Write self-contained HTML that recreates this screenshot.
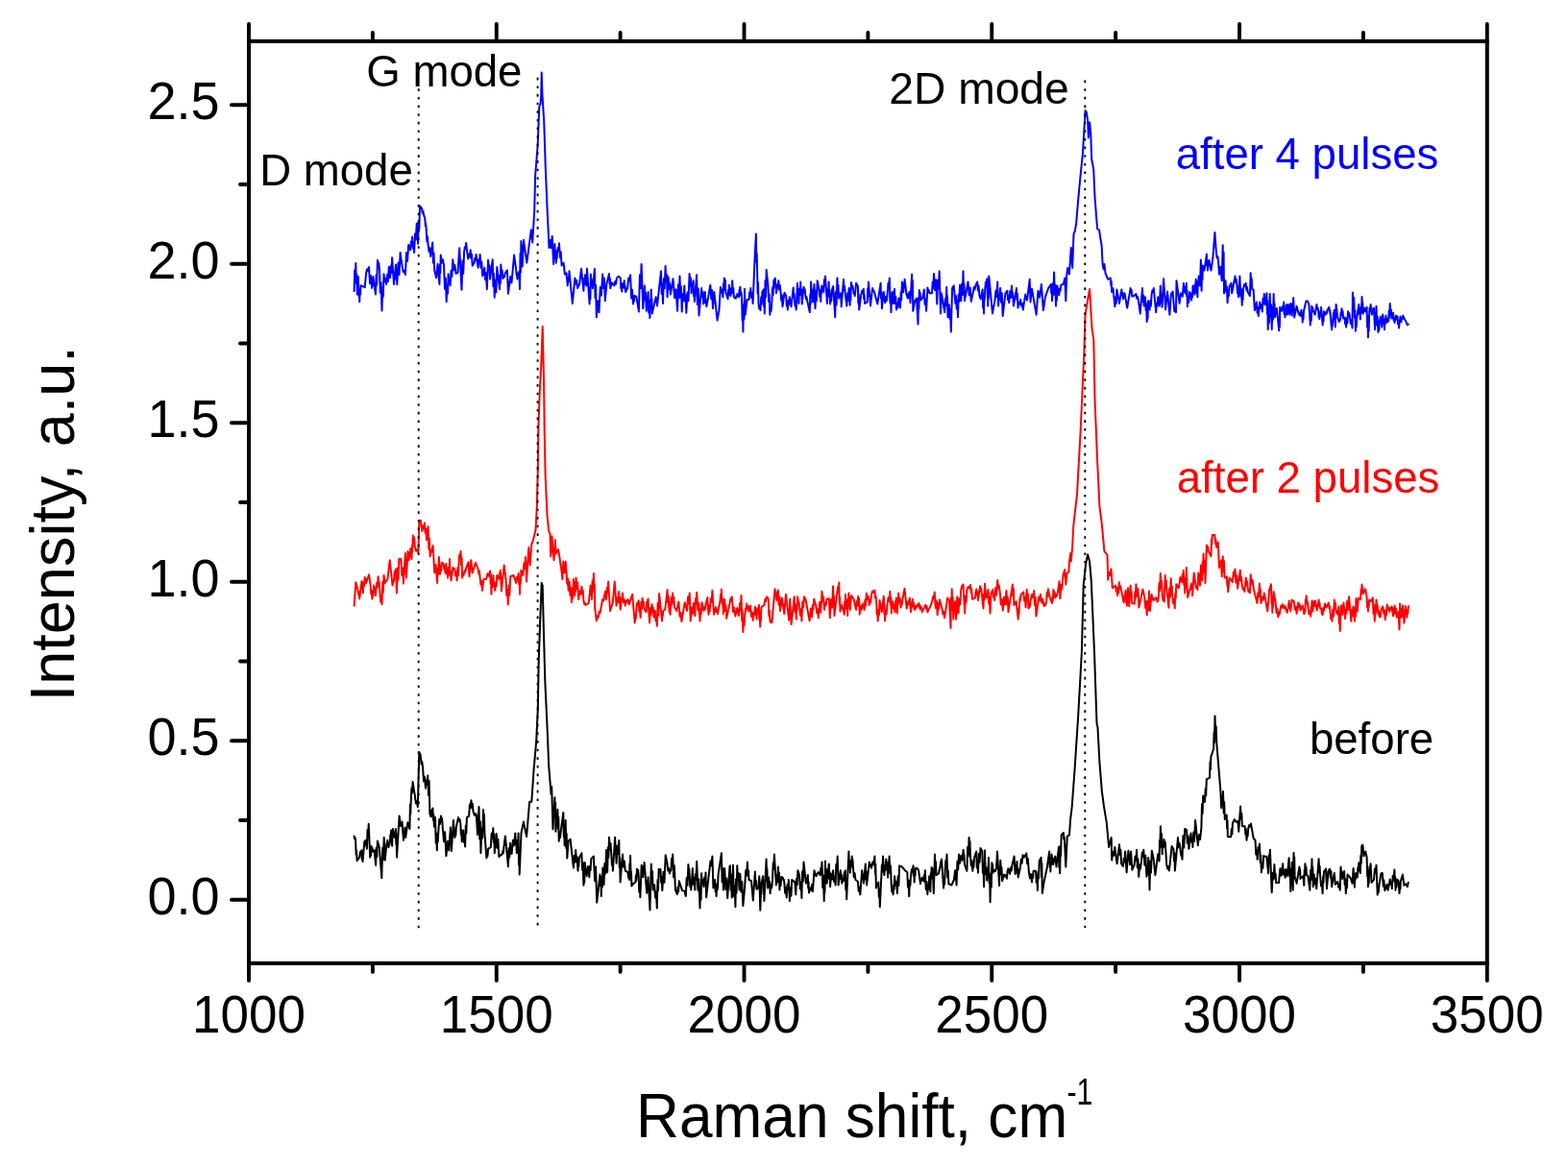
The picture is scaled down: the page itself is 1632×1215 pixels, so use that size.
<!DOCTYPE html>
<html><head><meta charset="utf-8"><style>
html,body{margin:0;padding:0;background:#fff;}
svg{display:block;}
text{font-family:"Liberation Sans",sans-serif;fill:#000;}
</style></head><body>
<svg width="1632" height="1215" viewBox="0 0 1632 1215">
<rect width="1632" height="1215" fill="#fff"/>
<g fill="none" stroke-width="2" stroke-linejoin="round" stroke-linecap="round">
<path d="M368.6 303.1 L369.2 281.3 L369.7 291.5 L370.3 274.1 L370.8 295.1 L371.3 285.7 L371.8 306.4 L372.8 288.0 L373.3 307.4 L373.7 301.6 L374.2 314.3 L374.7 301.4 L375.1 306.4 L375.5 297.2 L379.7 299.2 L381.1 284.0 L382.1 280.3 L382.9 282.3 L384.0 278.1 L385.0 295.1 L385.9 286.9 L387.0 299.8 L387.5 293.8 L387.8 297.5 L388.3 288.0 L390.9 306.4 L391.6 286.3 L392.2 296.4 L392.9 270.8 L393.6 276.1 L394.2 273.4 L394.9 280.1 L395.8 304.8 L396.6 294.1 L397.5 323.5 L398.2 299.2 L398.8 309.0 L399.5 285.3 L400.4 293.2 L401.2 290.0 L402.1 295.9 L403.1 286.0 L403.8 293.1 L404.8 278.1 L406.1 289.3 L406.8 276.6 L407.4 283.9 L408.1 268.2 L410.0 295.9 L412.0 275.5 L412.5 290.7 L412.9 283.9 L413.3 295.9 L414.5 273.6 L415.5 286.0 L416.6 262.9 L418.6 277.4 L419.7 283.2 L420.7 281.5 L421.9 286.0 L423.0 263.1 L424.0 271.9 L425.2 255.0 L425.9 258.5 L426.5 256.8 L427.1 260.3 L427.8 251.8 L428.4 255.8 L429.1 246.5 L429.8 258.6 L430.4 253.6 L431.1 262.9 L432.0 243.4 L432.8 249.6 L433.7 232.7 L434.2 247.6 L434.6 239.3 L435.0 253.7 L435.7 229.5 L436.3 238.7 L437.0 214.5 L439.0 216.9 L439.7 222.1 L440.3 219.8 L441.0 223.4 L442.3 227.4 L442.8 235.4 L443.1 232.8 L443.6 237.9 L444.3 251.4 L444.9 246.0 L445.6 255.0 L446.5 261.9 L447.3 258.3 L448.2 266.9 L450.2 252.4 L450.9 273.7 L451.5 263.2 L452.2 281.4 L454.1 289.3 L455.5 274.8 L457.4 295.9 L457.9 275.6 L458.3 284.3 L458.7 265.6 L459.9 273.6 L460.9 270.3 L462.0 276.1 L463.0 301.0 L463.8 289.6 L464.7 314.3 L465.4 296.8 L466.0 305.7 L466.6 285.3 L467.3 293.4 L467.9 290.0 L468.6 297.2 L469.5 281.8 L470.3 288.2 L471.3 270.2 L472.4 281.2 L473.4 276.0 L474.5 284.7 L476.5 284.0 L478.2 258.3 L480.5 301.8 L481.4 271.6 L482.2 285.0 L483.1 261.6 L483.8 257.3 L484.4 259.0 L485.1 253.1 L487.1 269.5 L488.0 264.6 L488.8 267.6 L489.7 260.3 L490.4 268.9 L491.0 265.1 L491.7 276.8 L493.6 273.5 L494.3 268.8 L494.9 271.0 L495.6 264.9 L497.6 278.7 L498.3 270.5 L498.9 274.6 L499.6 264.9 L500.5 278.7 L501.3 272.4 L502.2 287.3 L502.9 282.7 L503.5 286.0 L504.2 278.7 L505.1 291.3 L505.9 284.2 L506.8 301.1 L508.1 270.8 L508.8 280.8 L509.4 276.3 L510.1 290.6 L512.7 270.2 L513.4 298.3 L514.0 285.0 L514.7 309.7 L515.6 291.8 L516.4 304.3 L517.3 278.1 L520.0 301.1 L520.4 286.6 L520.8 295.0 L521.3 275.5 L522.0 285.2 L522.6 281.4 L523.3 289.9 L524.2 286.9 L525.0 288.4 L525.9 284.0 L527.9 281.4 L528.9 305.7 L531.2 288.0 L531.6 293.0 L532.0 291.2 L532.5 294.5 L535.1 265.6 L537.1 280.1 L537.6 286.1 L537.9 284.0 L538.4 290.6 L540.4 282.7 L541.0 301.1 L541.5 263.8 L541.9 283.5 L542.4 251.1 L542.8 265.6 L543.2 255.8 L543.7 277.4 L545.0 249.8 L547.0 264.3 L548.3 273.5 L550.9 253.7 L552.9 239.2 L554.2 252.4 L556.2 219.5 L557.1 183.0 L559.6 152.0 L561.3 111.0 L562.5 108.0 L563.2 100.0 L563.7 75.6 L564.5 99.5 L566.2 125.8 L567.8 175.0 L569.5 216.0 L571.1 249.0 L571.5 257.9 L572.8 250.0 L573.4 257.9 L574.7 246.1 L576.1 275.0 L577.4 254.0 L577.8 266.1 L578.2 260.8 L578.7 273.7 L579.2 266.3 L579.6 269.4 L580.0 263.2 L580.7 258.0 L581.3 261.2 L582.0 253.3 L582.9 268.3 L583.7 262.2 L584.6 276.4 L586.6 273.7 L587.9 285.6 L589.5 284.3 L590.8 297.4 L591.4 288.9 L591.9 293.0 L592.5 282.3 L595.8 315.9 L598.4 289.5 L599.4 295.5 L600.2 291.9 L601.1 300.1 L603.1 296.1 L605.0 279.7 L607.4 302.7 L608.0 290.1 L608.4 295.7 L609.0 286.2 L609.4 295.1 L609.8 292.4 L610.3 297.4 L611.0 279.7 L613.6 316.5 L614.1 299.5 L614.4 311.3 L614.9 285.6 L615.6 296.1 L616.2 291.5 L616.9 300.1 L618.9 279.7 L619.5 310.2 L620.1 297.1 L620.8 330.3 L622.1 313.2 L622.6 322.5 L623.0 318.1 L623.5 325.1 L624.8 298.8 L625.9 307.5 L627.2 285.6 L628.1 300.0 L628.9 289.7 L629.8 313.2 L631.4 295.5 L634.0 284.9 L634.5 295.3 L634.9 289.9 L635.3 300.1 L635.8 296.1 L636.2 297.5 L636.6 294.1 L639.3 297.4 L640.2 292.9 L641.0 295.8 L641.9 289.5 L643.9 287.6 L645.8 289.5 L646.3 300.3 L646.7 296.3 L647.2 303.4 L648.1 295.1 L648.9 299.2 L649.8 292.2 L650.3 300.5 L650.7 297.9 L651.1 304.0 L653.1 300.1 L654.2 289.5 L655.1 292.4 L656.1 286.2 L657.1 310.4 L658.0 301.8 L659.0 316.5 L659.5 311.8 L659.9 313.9 L660.3 308.0 L662.3 308.6 L664.9 324.4 L665.9 286.2 L666.7 299.9 L667.6 275.0 L669.3 321.1 L670.9 297.4 L671.6 312.6 L672.1 304.8 L672.8 323.8 L673.4 310.0 L674.0 314.1 L674.6 304.0 L675.2 325.5 L675.8 318.5 L676.4 331.0 L676.9 312.2 L677.3 320.0 L677.7 301.4 L678.1 320.7 L678.4 310.9 L678.8 326.4 L682.7 309.3 L683.2 314.5 L683.6 311.5 L684.0 318.5 L688.0 282.3 L688.7 306.0 L689.3 294.9 L690.0 315.9 L690.9 290.1 L691.7 300.3 L692.6 277.0 L693.3 293.9 L693.9 285.7 L694.6 309.3 L695.6 288.2 L696.4 301.0 L697.1 295.0 L697.9 306.6 L700.5 290.2 L702.1 310.1 L703.5 301.2 L705.1 323.8 L705.9 296.5 L706.6 310.2 L707.5 287.6 L708.3 309.7 L708.9 298.3 L709.7 324.4 L710.6 306.1 L711.4 312.8 L712.3 297.4 L713.0 313.7 L713.6 307.6 L714.3 325.7 L715.5 304.5 L716.5 313.2 L717.6 284.9 L718.3 296.9 L718.9 289.6 L719.6 305.3 L720.3 295.3 L720.9 298.4 L721.6 292.2 L722.0 308.2 L722.4 303.5 L722.9 313.9 L725.1 286.2 L725.9 317.1 L726.7 300.4 L727.5 328.4 L730.1 300.1 L730.8 308.8 L731.4 303.8 L732.1 316.5 L733.8 304.0 L734.4 315.6 L734.8 312.2 L735.4 319.2 L739.3 296.8 L740.3 311.3 L741.0 302.0 L742.0 321.1 L743.3 304.0 L746.6 333.6 L748.5 322.4 L749.9 298.7 L750.8 304.6 L751.6 301.6 L752.5 309.3 L753.0 295.2 L753.4 301.8 L753.8 289.5 L754.3 297.1 L754.8 291.4 L755.3 304.0 L757.6 311.3 L758.1 301.7 L758.5 307.0 L759.0 296.8 L759.5 303.7 L760.0 300.7 L760.5 308.0 L761.1 300.0 L761.6 305.2 L762.2 292.2 L762.8 303.7 L763.3 300.0 L763.8 309.3 L765.8 310.6 L766.4 308.1 L766.8 309.1 L767.4 306.0 L769.1 309.3 L769.6 301.4 L769.9 304.3 L770.4 298.7 L771.0 307.3 L771.5 304.2 L772.1 311.3 L772.6 333.8 L773.0 323.5 L773.4 345.5 L774.0 317.2 L774.5 332.3 L775.0 300.7 L775.7 327.7 L777.6 311.9 L779.6 311.9 L780.2 304.2 L780.7 307.7 L781.3 300.1 L782.1 309.9 L782.8 305.0 L783.6 315.9 L785.3 275.0 L786.9 243.4 L787.3 272.7 L787.7 263.9 L788.2 285.6 L788.6 305.4 L789.0 294.0 L789.5 315.9 L790.2 321.2 L790.8 318.4 L791.5 323.1 L792.2 309.6 L792.8 316.7 L793.4 304.0 L794.8 301.4 L795.1 319.2 L795.5 310.5 L795.8 326.4 L796.5 292.0 L797.0 309.2 L797.7 281.0 L799.4 297.4 L800.1 314.2 L800.7 306.6 L801.3 327.7 L802.0 319.8 L802.6 323.9 L803.3 315.9 L804.0 299.2 L804.6 307.3 L805.3 292.2 L806.9 289.5 L807.2 299.9 L807.6 296.2 L807.9 305.3 L810.3 292.2 L811.1 301.6 L811.8 297.3 L812.5 304.0 L813.2 312.8 L813.8 307.0 L814.5 319.2 L816.5 304.7 L818.2 308.0 L818.8 318.6 L819.2 313.2 L819.8 322.4 L820.5 313.1 L821.1 316.9 L821.8 309.3 L823.5 319.2 L825.7 299.4 L826.2 309.6 L826.6 305.7 L827.0 313.2 L827.6 318.7 L828.1 316.7 L828.7 322.4 L829.9 294.8 L831.4 315.9 L832.0 300.6 L832.6 306.9 L833.2 293.5 L833.7 307.0 L834.2 301.3 L834.7 316.5 L836.5 298.7 L837.1 303.1 L837.6 300.9 L838.2 306.6 L838.9 311.2 L839.5 309.1 L840.2 313.2 L842.8 325.1 L843.3 306.6 L843.7 316.3 L844.1 293.5 L844.8 307.7 L845.4 302.4 L846.1 314.5 L846.6 301.0 L847.0 307.6 L847.4 296.1 L848.5 321.1 L849.3 302.4 L849.9 313.1 L850.7 292.2 L852.4 300.1 L853.1 308.6 L853.6 305.0 L854.3 313.9 L854.6 301.7 L855.0 305.4 L855.3 297.4 L857.3 304.0 L857.9 291.0 L858.4 296.8 L859.0 287.6 L860.9 315.9 L861.5 301.3 L862.0 308.4 L862.6 293.5 L863.1 308.5 L863.5 302.2 L864.0 316.5 L864.7 309.6 L865.2 313.6 L865.9 302.7 L866.3 300.0 L866.7 301.3 L867.2 298.1 L869.2 330.3 L869.9 303.9 L870.6 317.4 L871.4 289.5 L872.0 301.4 L872.5 297.1 L873.1 310.6 L873.8 307.0 L874.4 309.0 L875.1 305.3 L875.7 319.2 L878.0 290.8 L878.6 302.4 L879.1 298.1 L879.7 305.3 L881.4 318.5 L882.2 305.2 L882.9 312.5 L883.6 300.1 L884.6 317.8 L885.0 304.8 L885.4 312.5 L885.9 294.1 L886.7 299.3 L887.4 297.6 L888.2 302.7 L888.8 306.0 L889.3 304.5 L889.8 308.0 L891.1 294.8 L892.9 298.1 L893.3 315.6 L893.7 306.4 L894.2 322.4 L896.1 308.0 L897.1 302.7 L897.9 305.1 L898.8 300.7 L899.2 311.2 L899.6 306.9 L900.1 315.9 L902.7 314.5 L903.2 300.0 L903.6 308.2 L904.0 293.5 L906.0 318.5 L908.0 300.1 L910.0 304.0 L913.3 316.5 L916.6 294.8 L917.0 310.7 L917.4 304.1 L917.9 321.1 L919.8 304.0 L921.2 315.2 L922.1 309.1 L922.9 313.2 L923.8 304.0 L924.5 294.7 L925.1 297.8 L925.8 289.5 L926.4 315.3 L926.9 305.1 L927.5 325.1 L927.9 310.4 L928.3 314.7 L928.8 304.0 L929.7 315.9 L930.2 304.0 L930.6 309.1 L931.0 300.7 L931.7 316.1 L932.3 309.1 L933.0 322.4 L933.8 315.8 L934.6 320.3 L935.4 310.6 L935.9 315.8 L936.4 312.1 L937.0 320.5 L937.7 304.0 L938.2 312.2 L938.9 293.5 L940.3 304.0 L940.7 294.9 L941.1 299.4 L941.6 290.8 L943.5 306.6 L944.9 310.6 L945.4 306.1 L945.9 307.7 L946.4 304.0 L946.8 310.2 L947.1 306.2 L947.5 315.2 L949.1 285.6 L949.5 307.2 L949.9 292.2 L950.3 323.8 L952.2 313.2 L954.0 310.6 L955.5 337.6 L956.0 310.2 L956.4 321.8 L956.8 302.0 L957.3 308.7 L957.7 305.0 L958.2 312.6 L960.1 310.6 L961.9 301.4 L962.6 316.8 L963.3 311.6 L964.1 323.8 L965.4 299.4 L966.1 304.0 L966.7 301.9 L967.4 305.3 L970.0 305.3 L970.7 293.5 L971.3 299.8 L972.0 284.9 L973.1 302.0 L974.1 291.2 L975.3 316.5 L976.1 291.7 L976.8 300.2 L977.7 282.3 L979.0 326.4 L979.9 305.3 L983.2 325.1 L983.9 311.1 L984.5 318.4 L985.2 298.7 L985.6 315.5 L986.0 308.0 L986.5 330.3 L986.9 321.4 L987.3 326.4 L987.8 317.2 L988.5 331.6 L989.1 322.0 L989.8 345.5 L991.1 300.1 L992.7 297.4 L994.4 315.9 L995.0 308.0 L995.7 321.5 L996.3 313.2 L997.0 330.3 L997.7 306.6 L998.3 313.9 L999.0 296.8 L999.4 307.4 L999.8 302.9 L1000.3 313.2 L1001.1 295.6 L1001.8 306.9 L1002.5 282.3 L1003.0 303.1 L1003.5 295.6 L1004.0 313.2 L1007.5 293.5 L1008.7 307.3 L1009.7 299.5 L1010.8 313.9 L1012.8 304.0 L1013.7 299.1 L1014.5 301.6 L1015.4 297.4 L1017.2 293.5 L1017.9 302.4 L1018.6 297.8 L1019.4 308.0 L1020.7 311.3 L1022.7 301.4 L1023.1 320.5 L1023.5 311.7 L1024.0 326.4 L1024.5 306.5 L1024.9 311.7 L1025.3 300.7 L1026.0 293.4 L1026.6 295.6 L1027.3 290.2 L1028.2 318.5 L1028.6 301.8 L1028.9 310.9 L1029.3 287.6 L1033.0 326.4 L1035.6 311.9 L1036.5 302.4 L1037.3 309.1 L1038.2 293.5 L1039.1 318.5 L1039.8 307.8 L1040.4 311.9 L1041.1 300.1 L1042.0 314.8 L1042.8 305.3 L1043.7 329.0 L1046.4 305.3 L1048.4 302.7 L1049.0 312.1 L1049.6 308.0 L1050.3 315.2 L1051.3 303.0 L1052.0 310.0 L1053.0 297.4 L1053.7 309.5 L1054.2 305.0 L1054.9 318.5 L1058.0 300.1 L1058.5 312.4 L1059.0 305.9 L1059.5 320.5 L1060.5 314.9 L1061.3 316.7 L1062.2 311.9 L1063.1 318.5 L1063.9 316.0 L1064.8 322.4 L1067.2 306.6 L1067.8 310.8 L1068.4 308.8 L1069.0 312.6 L1071.7 290.8 L1072.5 314.5 L1074.0 300.7 L1078.6 327.7 L1080.5 302.7 L1082.1 309.9 L1083.9 296.1 L1085.9 323.1 L1087.9 309.3 L1091.1 300.1 L1093.8 296.1 L1094.2 305.1 L1094.6 298.9 L1095.1 313.2 L1095.8 295.1 L1096.4 306.9 L1097.1 283.6 L1097.8 306.6 L1098.4 296.5 L1099.0 318.5 L1099.5 305.5 L1099.9 312.7 L1100.4 297.4 L1102.3 307.3 L1103.0 300.4 L1103.6 302.7 L1104.3 296.8 L1106.9 295.5 L1108.3 289.5 L1109.3 313.2 L1110.2 286.9 L1111.2 279.0 L1112.9 285.6 L1114.8 257.9 L1116.2 279.0 L1117.5 243.4 L1118.8 240.8 L1120.1 232.9 L1122.1 209.2 L1124.3 185.5 L1127.0 159.2 L1128.3 136.8 L1129.6 115.1 L1130.9 117.1 L1132.2 126.3 L1132.9 143.4 L1134.2 127.6 L1135.3 139.5 L1136.2 165.8 L1138.2 176.3 L1139.5 205.3 L1142.1 238.2 L1144.1 239.5 L1145.4 248.7 L1146.6 255.3 L1147.6 275.0 L1148.6 280.3 L1149.5 275.0 L1150.5 284.3 L1153.2 290.8 L1155.8 289.5 L1156.3 296.9 L1156.7 292.9 L1157.1 304.0 L1158.4 300.1 L1160.4 319.2 L1161.1 309.6 L1161.7 316.0 L1162.4 301.4 L1165.0 315.9 L1167.4 301.4 L1167.9 307.6 L1168.4 305.1 L1169.0 311.3 L1169.5 307.7 L1170.0 309.3 L1170.5 305.3 L1173.2 320.5 L1176.6 300.1 L1177.2 304.6 L1177.6 301.8 L1178.2 308.6 L1180.2 308.0 L1182.4 306.0 L1183.2 310.7 L1183.9 308.7 L1184.8 311.9 L1186.7 326.4 L1189.0 300.1 L1189.6 314.2 L1190.1 307.5 L1190.7 318.5 L1191.2 313.5 L1191.5 316.0 L1192.0 309.3 L1192.6 322.9 L1193.1 316.0 L1193.7 335.0 L1194.2 323.8 L1194.6 331.7 L1195.0 313.2 L1195.6 318.7 L1196.1 316.3 L1196.6 322.4 L1197.3 313.0 L1197.9 318.5 L1198.6 306.6 L1199.4 302.3 L1200.0 303.8 L1200.8 300.1 L1203.2 325.1 L1203.9 315.6 L1204.5 319.0 L1205.2 309.3 L1206.9 318.5 L1207.8 297.4 L1208.4 314.8 L1208.9 306.1 L1209.5 319.8 L1211.1 290.2 L1213.1 322.4 L1215.0 303.4 L1217.4 327.7 L1218.7 308.0 L1219.4 304.9 L1219.9 306.4 L1220.6 303.4 L1222.3 323.8 L1224.0 325.1 L1224.5 292.2 L1227.6 315.9 L1228.9 305.3 L1230.8 308.6 L1231.9 294.8 L1232.5 303.0 L1232.9 299.6 L1233.5 305.3 L1233.9 298.6 L1234.3 302.8 L1234.8 294.8 L1235.2 308.2 L1235.5 302.6 L1235.9 319.2 L1236.6 309.0 L1237.3 314.8 L1238.1 304.0 L1238.8 309.4 L1239.4 306.4 L1240.1 312.6 L1240.6 304.6 L1241.1 309.2 L1241.6 297.4 L1242.2 302.3 L1242.8 300.0 L1243.4 306.6 L1243.8 296.3 L1244.2 299.7 L1244.7 290.8 L1245.3 304.8 L1245.8 298.7 L1246.4 309.3 L1246.8 292.8 L1247.2 297.2 L1247.7 287.6 L1248.2 295.0 L1248.6 291.6 L1249.0 297.4 L1249.9 270.4 L1250.6 302.7 L1251.1 282.5 L1251.5 290.9 L1251.9 276.4 L1253.5 281.6 L1255.9 264.5 L1256.2 276.5 L1256.6 271.3 L1256.9 281.6 L1258.5 271.1 L1260.5 281.6 L1262.4 268.5 L1264.4 242.1 L1266.1 265.8 L1266.8 268.8 L1267.3 266.9 L1268.0 271.1 L1269.0 285.6 L1269.5 280.5 L1269.9 282.7 L1270.3 277.7 L1271.7 292.2 L1272.7 255.3 L1273.2 280.9 L1273.6 262.4 L1274.0 305.3 L1274.6 298.0 L1275.1 301.4 L1275.6 292.2 L1276.3 303.7 L1276.9 298.6 L1277.6 315.2 L1278.3 302.1 L1278.9 308.1 L1279.6 298.1 L1281.5 294.8 L1282.2 305.3 L1285.5 287.6 L1286.2 294.2 L1286.8 291.1 L1287.5 297.4 L1288.0 305.3 L1288.5 301.0 L1289.0 309.3 L1290.4 287.6 L1291.2 308.4 L1291.9 300.5 L1292.7 317.8 L1293.2 307.1 L1293.6 312.3 L1294.0 301.4 L1295.0 296.2 L1295.8 297.7 L1296.7 294.8 L1297.4 302.2 L1298.0 299.0 L1298.7 304.0 L1300.9 308.0 L1301.7 284.3 L1302.2 294.7 L1302.7 289.9 L1303.3 301.4 L1304.6 301.4 L1305.9 323.1 L1307.9 314.5 L1308.6 325.7 L1309.2 320.1 L1309.8 329.0 L1311.2 314.5 L1312.1 320.9 L1312.9 317.3 L1313.8 324.4 L1314.5 311.1 L1315.1 316.5 L1315.8 306.0 L1316.2 313.1 L1316.6 310.6 L1317.1 317.2 L1317.6 309.8 L1317.9 312.2 L1318.4 305.3 L1318.9 327.0 L1319.3 313.1 L1319.7 342.9 L1320.4 321.2 L1321.0 336.0 L1321.7 306.0 L1322.4 330.1 L1323.0 317.3 L1323.7 342.9 L1324.4 319.6 L1325.0 332.7 L1325.6 306.0 L1326.1 323.4 L1326.5 316.1 L1327.0 330.3 L1328.9 321.1 L1331.2 344.2 L1331.5 331.0 L1331.9 340.6 L1332.2 319.8 L1334.2 323.8 L1334.9 319.1 L1335.5 321.4 L1336.2 314.5 L1336.6 327.0 L1337.0 322.5 L1337.5 330.3 L1338.8 317.2 L1339.8 327.6 L1340.8 316.9 L1342.3 327.6 L1343.2 315.9 L1343.8 324.6 L1344.2 319.5 L1344.7 328.6 L1345.2 316.3 L1345.7 321.3 L1346.2 310.0 L1347.2 330.6 L1349.6 318.8 L1351.6 326.7 L1353.0 328.6 L1353.6 324.7 L1354.0 326.4 L1354.5 322.7 L1354.9 329.6 L1355.3 326.3 L1355.7 335.5 L1356.1 327.9 L1356.5 332.1 L1357.0 323.7 L1359.4 313.4 L1360.9 313.4 L1362.4 316.9 L1363.8 338.4 L1364.3 328.1 L1364.8 333.6 L1365.3 318.8 L1365.8 321.7 L1366.2 320.2 L1366.8 323.7 L1368.7 327.6 L1370.4 316.9 L1371.0 322.1 L1371.5 320.5 L1372.2 323.7 L1372.6 330.2 L1372.9 328.2 L1373.3 332.1 L1374.0 324.4 L1374.5 329.0 L1375.1 319.8 L1376.6 338.4 L1377.1 329.2 L1377.5 334.6 L1378.0 324.2 L1379.5 327.6 L1380.2 324.9 L1380.8 326.6 L1381.5 322.7 L1383.4 319.8 L1383.9 324.9 L1384.3 323.3 L1384.7 327.6 L1386.1 343.3 L1386.5 334.6 L1386.9 339.0 L1387.4 332.1 L1387.9 325.9 L1388.3 328.6 L1388.8 322.7 L1389.8 340.4 L1390.6 316.9 L1392.3 330.6 L1393.7 335.0 L1394.2 332.4 L1394.7 333.9 L1395.2 330.6 L1395.6 325.6 L1396.0 327.8 L1396.5 321.3 L1397.1 328.3 L1397.6 324.2 L1398.1 331.6 L1399.6 330.6 L1400.1 337.3 L1400.6 335.0 L1401.1 340.4 L1401.8 330.9 L1402.4 336.4 L1403.0 324.2 L1403.7 327.8 L1404.3 326.1 L1405.0 330.6 L1405.9 337.1 L1406.6 333.6 L1407.5 341.4 L1407.9 304.6 L1408.5 313.2 L1408.9 309.4 L1409.4 315.9 L1409.9 330.8 L1410.4 323.2 L1410.9 344.8 L1411.3 335.6 L1411.7 340.4 L1412.2 331.6 L1414.3 316.9 L1414.8 327.0 L1415.3 322.9 L1415.8 332.5 L1416.4 319.8 L1416.9 325.7 L1417.5 309.0 L1417.9 320.7 L1418.3 314.7 L1418.7 326.7 L1419.2 322.5 L1419.7 324.0 L1420.2 320.8 L1421.7 324.7 L1422.6 319.8 L1423.1 340.8 L1423.5 329.0 L1423.9 351.2 L1424.3 339.9 L1424.7 344.5 L1425.1 328.6 L1425.6 320.6 L1426.1 323.1 L1426.6 316.9 L1427.1 324.5 L1427.5 320.2 L1428.0 327.6 L1428.7 323.0 L1429.3 325.1 L1430.0 320.8 L1431.0 343.3 L1431.5 328.7 L1431.9 334.2 L1432.5 318.8 L1433.1 338.5 L1433.7 329.5 L1434.4 345.8 L1434.9 339.9 L1435.4 343.8 L1435.9 334.5 L1436.9 329.6 L1437.4 336.0 L1437.8 333.3 L1438.3 340.4 L1439.3 327.6 L1439.9 335.6 L1440.4 332.1 L1441.0 343.3 L1441.5 331.9 L1442.0 336.7 L1442.5 328.6 L1443.0 333.5 L1443.3 331.7 L1443.7 335.5 L1445.2 334.5 L1445.7 323.4 L1446.2 330.7 L1446.7 315.9 L1447.4 327.5 L1447.9 322.4 L1448.6 331.6 L1450.1 325.7 L1450.6 333.5 L1451.1 330.6 L1451.6 336.0 L1452.1 330.9 L1452.5 333.2 L1453.0 328.6 L1454.5 329.6 L1455.0 337.4 L1455.5 334.1 L1456.0 341.4 L1457.5 329.6 L1458.4 335.0 L1459.0 330.8 L1459.6 332.1 L1460.2 328.6 L1461.9 332.5 L1463.3 334.5 L1464.8 338.4 L1465.8 337.5" stroke="#0000ff"/>
<path d="M368.6 630.6 L370.3 606.2 L372.5 614.8 L373.1 619.3 L373.6 616.2 L374.2 623.4 L376.5 604.9 L376.9 612.3 L377.3 608.3 L377.8 617.4 L378.5 606.3 L379.1 610.1 L379.7 601.0 L380.2 604.6 L380.6 602.6 L381.1 606.9 L384.0 598.3 L385.7 609.5 L386.2 618.3 L386.7 614.8 L387.3 623.4 L387.9 616.3 L388.4 620.4 L389.0 609.5 L389.7 616.0 L390.3 612.0 L390.9 620.1 L391.9 606.9 L392.7 611.8 L393.6 600.3 L394.2 609.0 L394.7 605.7 L395.3 614.8 L396.1 626.4 L396.7 621.5 L397.5 629.3 L398.2 606.0 L398.8 616.9 L399.5 599.0 L400.8 606.9 L403.4 602.9 L405.7 583.2 L408.5 609.5 L410.0 604.3 L410.7 594.9 L411.3 599.5 L412.0 592.4 L412.9 617.4 L413.8 591.6 L414.5 603.8 L415.3 581.9 L417.3 581.9 L418.2 598.8 L419.0 591.2 L419.9 607.6 L421.9 576.0 L422.3 595.2 L422.6 588.2 L422.9 601.6 L424.5 574.0 L425.6 583.2 L426.1 575.3 L426.6 579.8 L427.1 571.3 L428.5 581.9 L428.9 568.1 L429.3 574.5 L429.8 557.5 L430.5 563.7 L431.1 559.4 L431.8 568.7 L433.0 573.8 L434.1 572.1 L435.3 575.3 L436.4 542.4 L437.7 541.7 L439.3 552.9 L440.2 547.3 L441.0 550.1 L441.9 544.4 L442.6 554.9 L443.3 550.6 L444.0 562.1 L444.6 551.3 L445.0 555.8 L445.6 548.3 L446.3 571.4 L446.9 560.7 L447.6 579.2 L450.6 568.1 L452.2 596.2 L453.5 587.9 L455.1 606.9 L455.7 591.2 L456.2 597.8 L456.8 579.9 L458.1 597.7 L458.7 589.9 L459.2 594.3 L459.8 585.8 L461.6 587.1 L462.2 592.3 L462.8 588.9 L463.4 596.4 L464.3 587.1 L464.9 597.5 L465.4 594.5 L466.0 601.6 L466.7 590.7 L467.3 597.3 L468.0 581.9 L468.5 599.5 L469.0 594.9 L469.5 604.3 L471.3 591.1 L473.2 592.4 L474.1 599.2 L474.8 595.0 L475.6 604.3 L476.4 591.1 L477.1 599.1 L477.8 580.6 L478.4 577.2 L479.0 579.8 L479.6 574.0 L480.1 588.1 L480.6 580.7 L481.1 601.6 L481.8 597.8 L482.4 599.0 L483.1 596.4 L483.8 594.0 L484.4 595.4 L485.1 591.8 L487.5 585.2 L488.5 600.3 L490.3 583.2 L491.7 596.4 L495.0 585.8 L497.6 592.4 L498.3 597.6 L498.9 594.6 L499.6 601.6 L500.4 608.6 L501.1 604.8 L501.9 614.8 L503.5 602.9 L506.1 602.9 L507.5 597.2 L508.7 599.6 L510.1 594.4 L510.6 607.6 L511.0 598.1 L511.4 618.7 L512.1 605.3 L512.7 610.9 L513.4 599.0 L514.0 609.5 L514.5 605.9 L515.1 614.8 L515.9 606.7 L516.6 610.4 L517.3 599.0 L519.3 602.9 L519.9 596.6 L520.3 599.4 L520.9 593.7 L521.9 615.5 L524.6 588.5 L526.6 604.3 L527.3 620.1 L528.0 613.9 L528.8 629.3 L529.6 609.4 L530.3 619.8 L531.2 600.3 L534.5 599.0 L537.1 606.9 L538.0 600.7 L538.8 603.7 L539.7 597.0 L540.2 608.1 L540.6 602.0 L541.0 618.7 L541.5 600.8 L541.9 607.0 L542.4 593.7 L543.0 596.7 L543.6 595.4 L544.3 599.0 L545.3 586.5 L546.0 592.1 L547.0 579.9 L548.0 605.6 L550.3 570.0 L551.6 588.5 L553.3 566.7 L554.9 562.1 L557.5 551.6 L558.8 527.5 L559.8 488.0 L560.3 448.5 L561.7 409.0 L563.3 379.4 L564.7 339.9 L565.3 365.6 L566.1 399.1 L566.7 448.5 L567.7 497.9 L569.6 537.4 L571.2 553.2 L572.5 555.5 L573.2 579.2 L574.5 558.2 L575.5 575.3 L576.5 583.2 L577.8 562.1 L578.7 576.6 L579.5 573.4 L580.2 574.5 L581.1 572.0 L584.4 593.7 L585.3 602.9 L586.3 584.5 L587.6 596.4 L588.0 588.6 L588.3 592.4 L588.7 584.5 L589.6 596.4 L590.3 607.9 L590.9 602.3 L591.6 614.8 L592.0 609.9 L592.3 613.3 L592.7 605.6 L593.4 619.8 L594.1 611.5 L594.9 627.3 L595.6 613.0 L596.2 622.7 L596.9 602.9 L597.3 611.6 L597.7 605.8 L598.2 620.1 L598.6 609.2 L599.0 615.9 L599.5 601.6 L600.4 612.9 L601.2 606.4 L602.1 624.0 L603.3 615.5 L604.3 618.7 L605.4 610.8 L606.1 618.4 L606.7 614.7 L607.4 625.3 L608.1 628.9 L608.7 627.9 L609.4 629.9 L612.7 628.0 L614.6 609.5 L615.1 619.3 L615.5 615.2 L616.0 624.0 L616.6 604.4 L617.2 611.9 L617.9 597.0 L618.4 616.5 L618.8 608.6 L619.2 633.2 L620.8 646.4 L621.7 641.2 L622.4 643.4 L623.2 639.8 L623.9 636.6 L624.5 638.2 L625.2 635.2 L627.1 624.0 L628.5 625.3 L628.9 619.7 L629.3 622.4 L629.8 616.1 L631.1 624.0 L631.8 611.9 L632.4 617.3 L633.1 605.6 L635.0 635.9 L637.7 628.0 L639.7 605.6 L641.6 630.6 L642.5 622.4 L643.2 626.7 L644.0 616.1 L644.6 627.7 L645.0 621.5 L645.6 634.5 L648.0 617.4 L649.0 627.2 L649.8 624.4 L650.8 630.6 L651.8 625.3 L652.6 626.8 L653.5 624.0 L653.9 626.8 L654.3 625.6 L654.8 629.3 L658.1 618.7 L660.7 648.4 L661.3 640.2 L661.8 644.1 L662.4 633.2 L663.2 627.7 L663.9 630.3 L664.7 625.3 L665.4 637.0 L666.0 633.1 L666.6 643.1 L667.3 627.1 L667.9 634.3 L668.6 622.7 L669.3 630.5 L669.9 626.4 L670.6 634.5 L672.6 637.2 L673.3 626.6 L673.9 630.6 L674.5 623.4 L676.1 648.4 L677.0 633.1 L677.7 639.9 L678.5 629.3 L679.2 636.4 L679.8 632.6 L680.5 642.4 L680.9 638.0 L681.3 640.5 L681.8 635.9 L682.5 646.2 L683.1 641.5 L683.8 651.7 L684.6 627.7 L685.3 640.7 L686.1 618.1 L689.0 646.4 L689.5 638.1 L689.9 640.9 L690.3 635.9 L692.3 634.5 L694.6 614.1 L695.2 627.1 L695.7 620.5 L696.3 631.9 L696.7 637.3 L697.1 635.1 L697.6 639.8 L698.5 622.1 L699.3 629.4 L700.2 617.4 L700.8 626.7 L701.3 621.7 L701.9 631.9 L704.2 635.9 L706.4 626.6 L707.5 641.8 L708.4 637.7 L709.4 647.1 L712.7 627.3 L715.1 635.9 L716.0 621.6 L716.8 628.6 L717.7 617.4 L718.7 646.4 L719.8 632.7 L720.8 639.2 L721.9 628.0 L722.4 637.5 L722.8 633.3 L723.3 641.1 L724.0 623.1 L724.5 628.6 L725.2 616.8 L726.4 635.4 L727.4 628.0 L728.5 646.4 L729.2 634.2 L729.8 638.8 L730.5 627.3 L732.5 635.9 L733.2 632.6 L733.8 634.5 L734.5 629.3 L736.4 622.0 L736.8 635.0 L737.1 629.7 L737.5 639.8 L738.0 635.1 L738.5 637.1 L739.1 631.9 L739.9 623.2 L740.6 626.9 L741.4 614.8 L743.0 639.8 L743.7 634.1 L744.3 636.9 L745.0 631.9 L745.7 637.0 L746.3 634.4 L747.0 639.2 L749.6 624.7 L750.1 618.5 L750.5 621.6 L750.9 613.5 L751.6 628.6 L752.2 623.4 L752.9 639.2 L753.4 627.2 L753.7 631.3 L754.2 624.0 L754.9 636.2 L755.5 630.5 L756.2 643.8 L759.5 628.0 L760.3 623.3 L760.9 625.3 L761.7 621.3 L763.0 636.9 L764.1 632.6 L765.4 641.5 L767.3 632.9 L767.9 638.4 L768.4 635.6 L769.1 640.9 L770.0 628.0 L770.7 635.7 L771.5 620.0 L772.2 646.3 L772.7 635.7 L773.4 658.0 L774.0 645.1 L774.6 651.3 L775.2 640.9 L775.9 633.6 L776.4 636.6 L777.1 628.6 L777.9 633.2 L778.7 631.1 L779.5 636.6 L781.0 630.5 L782.0 641.9 L782.8 637.7 L783.8 645.8 L784.5 637.4 L785.2 640.4 L785.9 631.7 L786.4 638.8 L786.9 635.1 L787.5 644.6 L788.3 633.3 L789.1 638.9 L789.9 629.9 L790.4 645.5 L790.7 636.8 L791.2 652.5 L791.6 641.8 L791.9 646.8 L792.4 632.3 L795.4 629.9 L796.3 623.8 L797.0 626.2 L797.9 621.3 L799.7 623.7 L800.4 641.4 L800.9 635.5 L801.6 647.6 L803.4 648.2 L806.5 613.3 L807.1 620.5 L807.7 616.3 L808.3 625.0 L808.9 617.0 L809.3 621.0 L809.9 614.5 L810.6 629.7 L811.3 621.3 L812.0 636.0 L813.8 622.5 L816.3 639.0 L817.9 618.8 L821.2 645.8 L822.2 623.7 L823.6 650.1 L826.7 621.3 L827.4 637.3 L828.0 629.5 L828.8 644.6 L829.2 630.2 L829.6 635.6 L830.0 621.3 L832.0 629.9 L832.8 640.5 L833.6 634.2 L834.4 646.4 L835.3 626.6 L836.0 632.3 L836.9 621.3 L837.6 624.2 L838.2 622.9 L838.9 626.2 L842.6 646.4 L843.8 633.5 L845.1 642.1 L845.8 629.9 L846.4 634.5 L847.2 623.7 L849.4 631.1 L850.2 638.3 L851.0 634.2 L851.8 643.3 L853.1 626.9 L854.2 637.6 L855.5 615.8 L856.3 626.1 L857.1 621.5 L857.9 634.8 L858.8 627.8 L859.5 630.6 L860.4 623.7 L862.8 623.1 L863.8 643.3 L865.0 624.3 L866.0 632.5 L867.1 610.2 L867.6 628.7 L867.9 620.2 L868.4 640.9 L871.4 616.4 L872.1 611.0 L872.6 614.7 L873.3 606.6 L873.7 628.6 L874.1 621.8 L874.5 636.6 L875.1 631.5 L875.7 633.3 L876.3 629.9 L878.8 639.7 L879.2 626.8 L879.6 635.1 L880.0 618.8 L880.8 633.0 L881.4 625.8 L882.2 640.9 L882.6 623.4 L883.0 630.8 L883.4 617.6 L883.9 628.9 L884.2 622.1 L884.7 634.8 L886.1 620.0 L888.6 623.7 L891.0 634.8 L891.8 626.0 L892.5 630.3 L893.2 620.7 L893.8 630.8 L894.2 623.2 L894.7 639.7 L895.8 631.0 L896.7 634.7 L897.8 628.6 L899.6 634.8 L900.4 624.6 L901.0 630.8 L901.8 617.6 L902.8 624.1 L903.7 620.8 L904.8 629.9 L905.5 623.9 L906.2 627.5 L907.0 618.8 L908.2 615.4 L909.2 616.8 L910.4 614.5 L911.0 622.6 L911.5 620.0 L912.1 625.0 L912.7 639.3 L913.1 634.4 L913.7 646.4 L914.3 635.3 L914.9 640.4 L915.5 625.0 L917.7 637.2 L919.8 620.7 L920.3 638.8 L920.6 629.1 L921.1 646.4 L921.9 635.7 L922.6 639.4 L923.5 629.9 L924.5 622.3 L925.3 625.8 L926.3 615.8 L926.8 628.6 L927.3 622.3 L927.8 638.4 L928.2 629.1 L928.6 633.8 L929.0 626.2 L931.5 637.2 L932.0 625.8 L932.4 629.2 L932.9 622.5 L933.9 638.4 L934.4 622.9 L934.7 629.7 L935.1 617.6 L936.0 626.6 L936.7 622.8 L937.6 632.3 L938.2 626.9 L938.8 629.3 L939.4 623.7 L941.5 612.7 L943.7 633.5 L944.8 626.5 L945.7 629.3 L946.8 622.5 L948.0 637.2 L949.9 623.7 L950.5 631.6 L951.0 627.8 L951.7 634.8 L952.3 632.6 L952.9 633.9 L953.5 630.5 L953.7 632.3 L954.6 629.9 L955.4 631.3 L956.4 628.0 L957.6 634.3 L958.6 631.1 L959.8 637.2 L963.2 629.9 L964.0 633.6 L964.6 631.0 L965.3 637.2 L968.4 631.1 L970.2 626.2 L971.1 621.2 L971.8 623.5 L972.7 616.4 L973.7 632.9 L974.7 625.5 L975.7 640.3 L976.5 627.7 L977.2 634.0 L977.9 624.3 L980.4 633.5 L981.3 639.3 L982.1 636.9 L983.1 643.3 L986.2 622.5 L988.0 625.0 L989.5 653.8 L989.9 622.6 L990.3 635.3 L990.7 613.3 L991.2 632.8 L991.7 622.1 L992.3 644.6 L992.9 631.7 L993.5 635.9 L994.1 626.2 L995.1 644.6 L996.3 621.3 L996.8 634.5 L997.1 630.4 L997.5 638.4 L998.5 623.0 L999.3 629.5 L1000.2 615.1 L1001.0 609.9 L1001.7 611.5 L1002.5 608.4 L1004.2 638.4 L1004.9 620.4 L1005.6 627.5 L1006.4 613.9 L1007.7 611.0 L1008.8 612.4 L1010.0 609.0 L1010.7 617.2 L1011.2 612.9 L1011.9 623.7 L1015.0 622.5 L1015.4 616.6 L1015.7 619.5 L1016.2 613.3 L1016.8 619.7 L1017.4 616.0 L1018.0 625.0 L1020.1 610.2 L1020.7 615.3 L1021.1 612.8 L1021.7 617.6 L1023.5 633.5 L1024.0 618.3 L1024.5 624.5 L1025.0 607.8 L1026.6 622.5 L1027.2 618.2 L1027.8 621.4 L1028.4 613.9 L1029.2 628.5 L1029.8 622.0 L1030.5 638.4 L1031.5 617.6 L1033.3 613.9 L1034.0 621.8 L1034.5 618.9 L1035.2 625.0 L1036.2 611.9 L1037.2 619.6 L1038.2 604.1 L1039.1 612.4 L1039.8 609.6 L1040.7 616.4 L1041.8 629.3 L1042.7 624.1 L1043.8 635.4 L1045.0 621.7 L1046.1 629.4 L1047.4 615.1 L1048.2 629.5 L1048.8 621.5 L1049.5 637.2 L1053.9 608.4 L1054.4 621.1 L1054.9 612.6 L1055.4 629.9 L1057.6 626.2 L1059.7 644.6 L1060.1 634.1 L1060.5 639.6 L1060.9 629.9 L1061.6 622.0 L1062.1 625.4 L1062.7 618.8 L1065.2 616.4 L1066.1 625.4 L1066.8 622.0 L1067.6 632.3 L1068.6 613.9 L1069.3 624.5 L1069.8 618.2 L1070.5 633.5 L1071.2 628.9 L1071.8 631.8 L1072.5 626.2 L1073.8 619.1 L1074.9 622.1 L1076.2 615.1 L1077.0 630.1 L1077.7 622.0 L1078.4 641.5 L1079.9 631.1 L1081.0 621.5 L1081.9 625.6 L1083.0 618.8 L1084.3 627.6 L1085.4 624.1 L1086.6 631.1 L1087.5 628.5 L1088.2 630.0 L1089.1 626.2 L1089.7 616.7 L1090.3 620.8 L1090.9 613.3 L1092.8 622.5 L1095.0 628.0 L1095.5 620.9 L1095.9 625.0 L1096.4 613.9 L1097.1 618.6 L1097.6 616.3 L1098.3 622.5 L1099.1 619.1 L1099.9 620.8 L1100.7 617.6 L1102.6 605.3 L1103.4 623.1 L1104.4 608.8 L1105.3 613.5 L1106.2 601.7 L1106.9 596.3 L1107.4 598.2 L1108.1 593.1 L1109.3 608.4 L1110.5 596.8 L1112.4 595.5 L1113.0 584.5 L1114.2 575.9 L1114.8 584.5 L1116.1 569.8 L1117.3 546.7 L1121.0 514.6 L1124.7 447.9 L1126.7 403.5 L1128.4 366.4 L1129.6 326.9 L1134.1 301.0 L1136.5 341.7 L1138.3 354.1 L1139.5 415.8 L1142.0 477.5 L1144.4 526.9 L1146.9 546.7 L1149.4 573.8 L1152.5 577.9 L1153.2 603.6 L1154.3 595.8 L1155.3 599.1 L1156.5 592.4 L1157.8 612.2 L1161.1 609.5 L1161.8 615.9 L1162.4 611.8 L1163.0 620.1 L1163.6 612.7 L1164.2 617.6 L1164.8 606.2 L1165.5 613.0 L1166.2 610.2 L1167.0 614.8 L1169.6 627.3 L1171.6 614.8 L1172.1 627.3 L1172.5 624.0 L1172.9 630.6 L1173.3 616.7 L1173.6 620.5 L1174.0 612.2 L1174.4 627.4 L1174.8 620.9 L1175.3 631.3 L1176.6 609.5 L1177.2 621.7 L1177.6 615.8 L1178.2 628.0 L1180.8 628.6 L1181.4 615.9 L1181.8 623.2 L1182.4 608.2 L1183.5 620.7 L1184.4 613.0 L1185.4 632.6 L1189.4 613.5 L1191.3 622.0 L1192.2 632.9 L1192.9 625.9 L1193.7 640.5 L1194.5 626.1 L1195.2 635.1 L1196.0 615.5 L1196.9 635.9 L1198.6 618.7 L1199.3 623.8 L1199.9 622.4 L1200.6 625.3 L1203.2 622.0 L1203.7 624.4 L1204.1 623.3 L1204.5 626.6 L1205.0 624.0 L1205.4 625.5 L1205.8 621.4 L1206.5 607.1 L1207.1 615.2 L1207.8 597.0 L1208.5 612.1 L1209.1 605.1 L1209.8 620.1 L1210.5 625.2 L1211.1 623.7 L1211.8 626.6 L1212.7 599.0 L1213.3 608.2 L1213.8 604.3 L1214.4 613.5 L1216.4 632.6 L1217.2 612.7 L1217.9 621.5 L1218.7 602.3 L1219.3 617.3 L1219.8 610.4 L1220.3 621.4 L1221.1 627.9 L1221.9 624.1 L1222.7 633.2 L1223.2 618.1 L1223.7 623.2 L1224.3 608.2 L1226.9 612.2 L1228.5 601.0 L1230.2 606.2 L1230.7 597.8 L1231.2 601.0 L1231.8 593.7 L1232.3 608.9 L1232.7 602.1 L1233.2 617.4 L1233.8 602.5 L1234.2 611.8 L1234.8 591.1 L1236.1 622.0 L1240.1 607.6 L1240.4 613.9 L1240.8 610.7 L1241.1 620.1 L1242.7 596.4 L1244.3 608.2 L1245.0 612.2 L1245.6 610.2 L1246.4 614.1 L1247.3 596.4 L1247.9 605.8 L1248.4 602.2 L1249.0 609.5 L1249.9 588.5 L1251.3 604.3 L1251.7 584.9 L1252.1 593.5 L1252.6 576.6 L1253.3 595.9 L1253.9 584.1 L1254.5 606.9 L1255.9 567.4 L1256.6 571.7 L1257.1 569.2 L1257.8 574.0 L1260.5 579.2 L1260.9 561.6 L1261.3 566.6 L1261.8 556.9 L1264.4 556.9 L1265.0 565.9 L1265.5 562.1 L1266.1 570.0 L1267.7 564.8 L1269.0 591.1 L1269.7 585.7 L1270.3 588.5 L1271.0 583.2 L1271.7 600.3 L1272.0 587.5 L1272.4 595.1 L1272.7 579.2 L1273.4 591.4 L1273.9 584.0 L1274.6 601.6 L1276.9 600.3 L1277.4 610.2 L1277.8 605.4 L1278.2 616.1 L1279.6 601.6 L1282.9 606.2 L1283.8 595.5 L1284.6 599.9 L1285.5 592.4 L1286.4 606.6 L1287.2 599.3 L1288.1 612.8 L1290.8 593.7 L1291.4 604.8 L1292.0 600.4 L1292.7 609.5 L1293.7 613.7 L1294.4 612.3 L1295.4 616.1 L1296.7 601.6 L1297.4 608.8 L1298.0 605.2 L1298.7 612.2 L1299.4 616.1 L1300.1 614.7 L1300.9 617.4 L1301.7 598.3 L1302.7 607.7 L1303.6 603.9 L1304.6 612.2 L1308.5 628.0 L1309.4 617.2 L1310.1 621.3 L1310.9 607.6 L1311.5 620.8 L1311.9 613.8 L1312.5 628.0 L1313.6 621.7 L1314.6 624.8 L1315.8 617.4 L1319.3 636.5 L1321.0 614.8 L1323.0 608.2 L1323.5 628.1 L1323.9 620.9 L1324.3 637.8 L1324.8 625.9 L1325.2 631.6 L1325.6 616.1 L1327.6 626.6 L1328.5 638.0 L1329.3 633.4 L1330.3 642.4 L1331.0 637.3 L1331.7 639.8 L1332.5 634.5 L1333.3 630.6 L1334.0 632.7 L1334.9 629.3 L1336.2 633.1 L1337.4 630.7 L1338.8 635.9 L1339.8 637.8 L1341.8 625.6 L1342.3 632.9 L1342.7 630.2 L1343.2 636.4 L1344.7 624.6 L1346.7 626.1 L1347.7 634.4 L1348.6 631.4 L1349.6 638.8 L1350.1 631.6 L1350.6 634.7 L1351.1 627.5 L1351.9 631.9 L1352.7 629.3 L1353.5 635.4 L1355.7 630.5 L1357.3 639.3 L1358.4 635.9 L1358.8 624.3 L1359.2 627.9 L1359.6 620.2 L1360.2 628.6 L1360.8 626.2 L1361.4 632.0 L1362.3 639.2 L1363.2 636.8 L1364.1 641.8 L1364.6 631.8 L1365.0 637.7 L1365.5 625.6 L1366.5 635.9 L1366.9 628.4 L1367.3 631.0 L1367.7 626.1 L1368.7 631.0 L1369.2 625.6 L1369.7 631.9 L1370.2 629.7 L1370.7 635.4 L1372.6 624.6 L1373.1 631.2 L1373.5 627.8 L1373.9 633.4 L1375.3 633.4 L1375.7 638.8 L1376.1 637.4 L1376.6 640.3 L1377.4 632.7 L1378.2 635.2 L1379.0 628.5 L1380.5 632.5 L1382.9 627.5 L1383.5 633.4 L1383.9 631.3 L1384.4 635.4 L1385.1 644.0 L1385.7 641.3 L1386.4 646.7 L1387.2 634.8 L1388.0 641.8 L1388.8 624.6 L1389.3 629.5 L1389.8 627.7 L1390.3 633.4 L1391.0 638.1 L1391.6 636.6 L1392.3 639.8 L1393.2 632.0 L1393.8 649.1 L1394.2 640.9 L1394.7 657.0 L1395.7 630.5 L1397.2 639.8 L1397.6 630.6 L1398.0 633.4 L1398.4 627.5 L1400.1 644.2 L1400.8 634.5 L1401.4 638.5 L1402.1 626.1 L1403.0 634.9 L1404.0 621.2 L1406.3 646.7 L1407.0 634.9 L1407.7 640.9 L1408.4 631.5 L1409.9 646.7 L1410.4 632.4 L1410.9 641.6 L1411.4 623.1 L1412.8 636.4 L1413.8 622.6 L1416.1 624.1 L1416.6 613.7 L1417.0 616.9 L1417.5 608.4 L1417.9 615.2 L1418.3 611.8 L1418.7 618.2 L1421.2 613.3 L1422.6 622.2 L1423.1 632.4 L1423.5 626.8 L1423.9 636.4 L1424.3 628.8 L1424.7 631.8 L1425.1 624.6 L1427.1 626.1 L1428.8 622.2 L1429.5 639.0 L1430.1 629.4 L1430.8 646.7 L1431.4 630.2 L1431.9 638.6 L1432.5 624.6 L1433.0 631.3 L1433.4 629.2 L1433.9 633.4 L1434.6 639.7 L1435.2 636.2 L1435.9 642.7 L1436.4 639.6 L1436.8 641.9 L1437.4 636.9 L1438.0 632.9 L1438.6 634.2 L1439.3 631.5 L1440.2 638.7 L1440.9 635.4 L1441.8 645.2 L1442.5 635.4 L1443.0 640.6 L1443.7 629.5 L1446.2 636.9 L1447.0 632.7 L1447.8 634.5 L1448.6 631.5 L1449.0 636.9 L1449.4 633.1 L1449.8 641.3 L1450.4 635.7 L1451.0 639.4 L1451.6 630.5 L1452.3 638.2 L1453.0 633.8 L1453.7 642.7 L1454.3 639.3 L1454.9 641.1 L1455.5 636.9 L1456.5 655.5 L1457.0 628.5 L1458.4 642.7 L1459.0 633.6 L1459.6 637.8 L1460.2 630.5 L1460.6 643.2 L1461.0 637.3 L1461.4 648.6 L1462.8 631.0 L1463.4 638.0 L1463.8 634.4 L1464.3 642.7 L1464.8 635.3 L1465.3 638.6 L1465.8 631.0" stroke="#ff0000"/>
<path d="M368.6 870.4 L369.1 873.3 L369.6 872.1 L370.1 874.8 L370.6 889.6 L371.0 885.0 L371.6 896.3 L374.1 892.6 L374.9 887.0 L375.5 888.9 L376.3 885.2 L376.7 894.7 L377.1 891.2 L377.5 897.0 L379.3 876.3 L380.7 874.8 L381.2 881.0 L381.5 878.9 L381.9 883.7 L382.5 864.0 L383.1 871.9 L383.7 857.8 L385.2 892.6 L385.6 886.4 L386.0 890.6 L386.4 880.7 L387.0 884.2 L387.5 883.0 L388.1 886.7 L389.6 885.2 L391.1 900.7 L391.7 882.7 L392.3 892.2 L392.9 875.6 L394.8 882.2 L397.3 914.1 L398.2 882.8 L398.9 895.0 L399.7 871.9 L400.7 895.6 L402.2 880.7 L402.6 877.5 L402.9 879.0 L403.3 874.8 L404.4 882.2 L405.0 878.1 L405.4 879.7 L405.9 876.3 L406.3 869.0 L406.7 872.2 L407.1 864.4 L407.5 875.4 L407.8 869.2 L408.1 880.7 L408.9 863.0 L409.5 869.9 L410.0 866.6 L410.7 871.9 L411.9 863.0 L412.3 879.2 L412.6 868.2 L413.0 892.6 L415.6 849.6 L417.0 860.0 L417.6 856.8 L418.0 857.9 L418.5 855.6 L420.0 874.8 L420.5 867.0 L421.0 869.8 L421.5 861.5 L422.2 871.9 L424.4 856.3 L426.4 863.0 L426.9 837.7 L427.3 847.4 L427.9 828.9 L428.5 820.2 L429.0 825.4 L429.6 814.1 L431.9 828.9 L432.9 836.5 L433.8 834.2 L434.8 840.0 L436.3 783.0 L436.8 786.4 L437.3 784.6 L437.8 787.4 L438.6 795.7 L439.2 793.0 L440.0 797.8 L441.0 813.4 L441.9 808.7 L443.0 820.7 L443.7 812.4 L444.4 816.7 L445.2 807.4 L446.0 827.9 L446.6 813.0 L447.4 847.4 L448.6 850.4 L449.2 843.4 L449.7 846.7 L450.4 841.5 L450.9 853.8 L451.3 847.9 L451.9 860.7 L452.3 854.2 L452.6 857.2 L453.0 851.1 L453.7 877.8 L454.2 867.5 L454.8 885.2 L455.3 871.4 L455.8 876.2 L456.3 865.9 L457.2 853.0 L458.0 858.0 L459.0 849.6 L459.6 855.2 L460.1 852.1 L460.7 860.7 L462.0 876.1 L463.1 866.3 L464.4 891.1 L466.0 875.8 L467.3 885.4 L468.9 861.5 L469.3 878.7 L469.6 872.1 L469.9 885.9 L471.9 854.1 L473.3 871.9 L473.9 866.5 L474.3 870.0 L474.8 861.5 L477.0 851.1 L477.8 854.9 L478.5 853.0 L479.3 857.0 L479.8 868.8 L480.2 863.7 L480.7 876.3 L481.3 868.3 L481.7 871.3 L482.2 864.4 L482.9 876.9 L483.5 873.4 L484.1 881.5 L484.8 859.6 L485.3 867.6 L485.9 851.1 L488.1 849.6 L488.9 837.6 L489.6 841.6 L490.4 833.3 L491.1 840.8 L491.8 836.8 L492.6 845.2 L493.8 848.7 L494.8 847.1 L496.0 851.1 L497.0 868.9 L497.6 847.0 L498.0 853.8 L498.5 840.0 L499.2 873.5 L499.8 855.3 L500.4 888.1 L501.3 862.5 L502.1 872.6 L503.0 843.0 L503.5 856.6 L503.9 847.8 L504.4 867.4 L506.4 893.3 L507.0 887.7 L507.5 891.2 L508.1 883.7 L510.8 882.2 L511.7 867.4 L512.5 872.8 L513.3 862.2 L513.9 877.5 L514.3 868.2 L514.8 888.1 L515.5 876.1 L516.1 881.7 L516.7 868.1 L517.6 882.9 L518.4 873.8 L519.3 891.9 L523.0 888.9 L523.5 885.5 L523.9 888.1 L524.4 882.2 L525.9 870.4 L528.9 902.2 L529.7 883.0 L530.3 892.5 L531.1 877.8 L531.6 885.8 L532.1 881.7 L532.6 888.9 L533.9 874.8 L535.0 880.3 L536.3 867.4 L536.8 879.2 L537.3 874.8 L537.8 888.1 L538.4 876.0 L538.9 883.5 L539.6 867.4 L540.0 900.5 L540.3 886.0 L540.7 910.4 L542.5 867.4 L544.9 855.6 L548.1 871.1 L551.1 834.8 L553.3 834.8 L555.6 800.7 L558.2 771.7 L559.8 738.1 L560.7 688.8 L562.1 649.3 L563.7 606.8 L564.7 609.8 L565.7 649.3 L567.3 708.5 L569.6 757.9 L571.2 797.4 L573.6 827.0 L574.2 819.1 L575.5 863.2 L577.4 830.3 L577.7 848.2 L578.1 835.8 L578.4 865.8 L579.1 852.2 L579.7 859.9 L580.4 842.8 L580.9 863.3 L581.3 850.6 L581.7 875.7 L582.4 869.8 L583.0 872.2 L583.7 865.8 L586.3 846.1 L586.8 871.2 L587.2 862.0 L587.6 880.3 L588.0 862.9 L588.3 872.5 L588.7 854.0 L589.3 883.1 L589.7 867.9 L590.3 893.5 L591.6 875.7 L593.6 873.7 L596.9 903.4 L597.7 890.7 L598.4 897.5 L599.2 884.9 L600.0 897.6 L600.7 892.0 L601.5 906.6 L601.9 898.4 L602.3 902.3 L602.8 893.5 L605.4 888.2 L606.1 905.6 L606.7 898.0 L607.4 921.8 L607.9 909.5 L608.3 918.8 L608.7 898.1 L610.7 911.9 L611.2 905.5 L611.5 908.1 L612.0 902.0 L612.5 908.8 L612.9 905.1 L613.3 913.2 L614.0 901.6 L614.6 906.2 L615.3 894.1 L617.9 891.5 L619.1 917.3 L620.1 902.4 L621.2 939.6 L624.5 910.6 L625.0 922.3 L625.4 917.1 L625.8 933.0 L626.4 912.8 L626.9 923.4 L627.4 903.4 L627.8 916.5 L628.1 910.7 L628.5 921.1 L629.4 899.0 L630.2 909.8 L631.1 884.9 L632.2 908.0 L632.8 882.3 L633.4 892.9 L634.0 871.8 L634.8 884.4 L635.5 877.9 L636.4 890.8 L636.9 900.8 L637.4 896.3 L637.9 906.6 L640.1 871.8 L641.6 898.7 L642.6 880.5 L643.3 889.0 L644.3 875.0 L644.7 902.8 L645.1 893.1 L645.6 918.5 L648.0 889.5 L649.0 902.6 L649.8 896.5 L650.8 906.6 L653.5 908.0 L654.0 913.7 L654.5 911.2 L655.1 915.9 L655.4 898.9 L655.7 904.0 L656.1 890.8 L656.6 914.0 L657.0 907.4 L657.4 922.4 L659.4 919.8 L661.4 918.5 L661.9 911.2 L662.4 916.4 L663.0 904.7 L663.6 908.3 L664.1 905.7 L664.7 911.9 L665.3 928.8 L665.8 921.3 L666.4 934.3 L667.7 900.7 L669.3 913.2 L669.7 902.0 L670.1 905.2 L670.6 898.1 L673.2 929.7 L673.7 917.9 L674.1 921.6 L674.5 913.2 L676.5 947.5 L677.8 899.4 L678.4 915.5 L679.0 907.1 L679.6 926.4 L681.1 921.1 L682.1 934.6 L682.8 928.5 L683.8 945.5 L684.5 915.9 L685.0 927.2 L685.7 904.7 L687.5 905.3 L688.1 918.8 L688.7 912.9 L689.3 927.1 L690.5 907.7 L691.5 918.8 L692.7 890.2 L694.3 898.1 L695.2 906.2 L696.0 903.6 L696.9 909.3 L698.5 905.3 L699.1 893.8 L699.6 899.1 L700.2 889.5 L701.1 913.3 L701.9 901.2 L702.9 926.4 L704.8 931.0 L705.5 923.7 L706.1 928.5 L706.8 917.2 L710.1 927.1 L712.7 927.7 L713.1 931.0 L713.4 929.2 L713.8 933.0 L714.7 913.9 L715.5 921.8 L716.4 900.1 L716.9 907.1 L717.3 904.2 L717.7 911.9 L718.3 923.3 L718.8 919.5 L719.3 926.4 L720.9 904.0 L721.7 920.9 L722.4 913.8 L723.3 926.4 L724.0 909.7 L724.5 915.7 L725.2 896.8 L726.4 926.7 L727.4 915.3 L728.5 945.5 L729.1 923.9 L729.6 936.7 L730.1 909.3 L730.9 920.3 L731.7 916.2 L732.5 923.1 L733.2 913.8 L733.8 919.1 L734.5 908.6 L735.1 934.3 L738.4 905.3 L739.5 896.4 L740.4 901.2 L741.4 891.5 L742.4 924.4 L744.1 915.9 L744.6 928.2 L745.1 921.5 L745.6 933.0 L746.3 920.2 L746.9 925.8 L747.6 910.6 L750.9 888.2 L751.6 918.3 L752.2 904.1 L752.9 926.4 L753.4 913.9 L753.7 919.6 L754.2 904.0 L755.3 926.0 L756.2 914.5 L757.2 935.0 L759.5 902.0 L759.9 901.3 L760.5 926.4 L761.1 917.7 L761.7 934.4 L762.2 910.1 L762.5 917.5 L763.0 900.7 L763.8 933.3 L764.6 922.1 L765.4 944.2 L766.1 915.3 L766.6 929.6 L767.3 901.3 L768.0 916.4 L768.7 909.1 L769.5 926.4 L770.3 909.9 L771.4 928.5 L772.3 918.0 L773.4 942.9 L775.2 923.3 L776.2 906.3 L777.0 912.0 L777.9 897.6 L778.5 910.5 L779.0 906.4 L779.5 916.0 L782.0 917.2 L783.8 937.4 L785.9 907.4 L786.4 921.8 L786.9 916.7 L787.5 925.8 L789.3 924.6 L790.3 912.3 L791.3 947.8 L792.4 919.7 L794.2 912.3 L794.6 930.4 L795.0 921.9 L795.4 938.0 L797.6 894.5 L798.1 916.3 L798.4 904.6 L798.9 924.6 L799.3 917.3 L799.7 919.7 L800.1 913.5 L800.6 923.5 L801.1 917.9 L801.6 930.1 L802.4 921.5 L803.2 924.5 L804.0 917.2 L804.7 898.2 L805.2 904.7 L805.9 889.6 L807.9 921.5 L808.6 911.3 L809.2 918.6 L809.9 902.5 L810.4 916.8 L810.9 908.6 L811.4 926.4 L812.0 917.4 L812.6 921.9 L813.2 912.9 L815.0 914.1 L815.5 916.7 L815.8 915.7 L816.3 918.4 L817.1 929.8 L817.9 924.2 L818.7 934.4 L819.5 921.1 L820.2 926.1 L820.9 916.0 L821.9 938.0 L822.7 924.5 L823.4 932.7 L824.2 916.0 L827.3 918.4 L828.3 931.3 L829.0 914.9 L829.6 921.2 L830.4 906.2 L832.0 911.1 L832.8 925.4 L833.6 918.7 L834.4 935.0 L835.1 907.6 L835.8 917.7 L836.5 897.6 L838.9 919.7 L839.6 914.7 L840.1 916.6 L840.8 911.1 L841.2 924.6 L841.6 918.2 L842.0 929.5 L843.1 924.7 L844.0 927.1 L845.1 920.9 L845.9 928.2 L847.5 906.2 L849.4 912.3 L851.8 908.0 L853.7 911.1 L854.3 903.7 L854.8 907.5 L855.5 897.6 L856.3 924.2 L856.9 911.5 L857.7 938.0 L858.1 914.1 L858.5 928.9 L858.9 896.4 L859.5 913.6 L860.0 904.8 L860.6 919.7 L862.8 899.4 L863.3 915.3 L863.6 907.8 L864.1 923.3 L865.1 909.7 L866.1 915.5 L867.1 906.2 L868.0 917.8 L868.7 913.2 L869.6 921.5 L870.3 899.9 L870.9 906.0 L871.7 891.5 L872.6 921.5 L874.9 906.2 L875.4 914.9 L875.8 910.8 L876.3 919.7 L877.1 914.9 L877.8 917.5 L878.5 911.1 L879.0 907.9 L879.3 909.5 L879.8 906.2 L880.3 926.3 L880.7 914.5 L881.2 936.2 L883.4 886.6 L883.9 902.8 L884.4 895.7 L884.9 908.6 L885.5 898.2 L886.1 902.4 L886.7 891.5 L887.2 900.0 L887.5 895.0 L888.0 904.3 L888.8 913.2 L889.6 909.3 L890.4 916.0 L892.9 917.8 L893.7 928.0 L894.5 923.7 L895.3 931.3 L897.2 906.2 L899.0 919.7 L900.8 899.4 L901.3 915.8 L901.6 907.3 L902.1 921.5 L904.8 897.6 L905.5 902.1 L906.2 900.2 L907.0 903.7 L908.2 897.4 L909.2 900.1 L910.4 891.5 L910.9 909.6 L911.3 899.7 L911.9 924.6 L912.7 920.5 L913.5 922.2 L914.3 918.4 L914.8 933.7 L915.3 926.1 L915.8 944.2 L917.4 911.1 L917.9 900.2 L918.4 907.7 L919.0 891.5 L920.4 911.1 L921.1 901.0 L921.6 906.0 L922.3 894.5 L922.9 905.3 L923.5 901.5 L924.1 913.5 L924.6 897.3 L925.1 902.4 L925.6 891.5 L926.4 909.3 L927.0 901.6 L927.8 923.3 L928.4 928.3 L929.0 926.4 L929.6 931.3 L930.1 921.2 L930.6 925.6 L931.1 912.3 L932.1 921.5 L932.9 917.9 L933.9 930.1 L934.7 912.2 L935.4 922.0 L936.1 901.3 L938.8 902.5 L941.9 906.2 L944.3 908.0 L945.0 923.6 L945.5 916.6 L946.2 933.1 L946.8 916.7 L947.4 921.8 L948.0 912.3 L948.9 905.2 L949.6 907.8 L950.5 901.3 L950.9 911.6 L951.3 907.8 L951.7 918.4 L952.1 907.9 L952.5 911.6 L952.9 903.7 L954.3 903.7 L956.1 906.2 L958.0 920.3 L958.6 915.0 L959.2 916.8 L959.8 913.5 L960.4 916.0 L961.0 914.5 L961.6 917.8 L962.1 910.8 L962.4 913.3 L962.9 906.2 L963.7 926.0 L964.5 918.0 L965.3 931.3 L966.0 921.6 L966.5 925.8 L967.2 912.3 L967.6 920.4 L968.0 917.1 L968.4 928.2 L968.8 908.9 L969.2 914.9 L969.6 903.1 L970.8 905.0 L971.8 930.1 L973.0 889.6 L973.6 905.5 L974.0 897.3 L974.5 911.1 L977.0 909.2 L978.8 900.7 L979.2 897.0 L979.6 899.0 L980.0 894.5 L982.1 924.6 L982.7 913.7 L983.1 920.6 L983.7 906.2 L984.3 896.0 L984.9 900.4 L985.5 889.6 L986.2 913.5 L986.7 906.3 L987.4 920.3 L990.4 921.5 L992.9 916.0 L994.1 906.2 L995.6 921.5 L996.4 896.7 L997.2 905.4 L998.0 889.6 L999.0 898.8 L1000.3 890.8 L1001.4 895.8 L1002.7 884.7 L1003.1 893.6 L1003.5 890.0 L1003.9 900.0 L1006.4 906.8 L1007.1 881.9 L1007.8 891.6 L1008.6 871.9 L1009.1 882.6 L1009.5 875.9 L1010.0 891.5 L1010.8 901.3 L1011.5 895.9 L1012.3 906.8 L1012.9 899.7 L1013.4 903.0 L1014.0 893.3 L1016.2 886.6 L1016.8 903.4 L1017.4 895.2 L1018.0 908.6 L1018.9 888.8 L1019.6 897.8 L1020.5 882.9 L1022.3 886.0 L1022.9 908.8 L1023.5 900.8 L1024.1 923.3 L1025.0 885.3 L1025.8 909.9 L1026.4 903.0 L1027.2 916.6 L1027.8 903.9 L1028.4 909.0 L1029.0 892.7 L1029.6 919.3 L1030.1 909.6 L1030.6 939.3 L1031.2 910.8 L1031.8 923.8 L1032.4 898.2 L1032.8 904.1 L1033.1 900.0 L1033.6 908.6 L1034.8 905.8 L1035.8 907.0 L1037.0 904.3 L1038.0 886.6 L1040.1 922.1 L1040.5 902.7 L1040.9 910.8 L1041.3 895.8 L1041.9 907.6 L1042.5 903.0 L1043.1 917.2 L1045.0 910.5 L1046.0 912.6 L1047.0 911.0 L1048.0 914.8 L1048.5 906.8 L1048.8 909.0 L1049.3 904.3 L1049.9 907.5 L1050.5 905.4 L1051.1 909.9 L1052.0 903.1 L1052.7 906.5 L1053.6 900.0 L1055.6 891.5 L1056.6 909.9 L1057.3 901.1 L1057.8 904.8 L1058.5 897.0 L1058.9 909.4 L1059.3 904.1 L1059.7 913.5 L1061.8 903.7 L1062.8 894.8 L1063.6 898.8 L1064.6 890.2 L1065.8 892.7 L1068.3 888.4 L1069.1 899.1 L1069.9 893.9 L1070.7 906.2 L1071.9 914.3 L1072.9 910.1 L1074.0 918.4 L1074.6 910.3 L1075.1 914.1 L1075.6 906.8 L1078.1 906.8 L1078.7 919.0 L1079.3 911.0 L1079.9 927.0 L1080.5 907.7 L1081.1 914.4 L1081.7 896.4 L1083.6 892.7 L1084.0 913.2 L1084.4 898.8 L1084.8 930.1 L1086.6 918.4 L1089.7 903.7 L1092.2 886.6 L1092.6 902.8 L1093.0 896.4 L1093.4 907.4 L1093.8 893.5 L1094.2 900.2 L1094.6 889.6 L1096.4 900.0 L1097.1 893.8 L1097.6 896.2 L1098.3 891.5 L1099.5 902.5 L1102.0 881.7 L1102.4 903.2 L1102.8 896.6 L1103.2 909.2 L1103.7 880.7 L1104.1 891.0 L1104.7 869.4 L1106.9 867.0 L1107.3 873.7 L1107.7 871.7 L1108.1 876.8 L1109.3 902.5 L1110.8 870.6 L1113.0 869.4 L1114.2 852.3 L1115.7 840.0 L1118.5 802.0 L1122.2 745.2 L1125.9 678.5 L1127.7 609.4 L1130.1 587.2 L1132.1 577.3 L1134.1 584.7 L1135.8 604.4 L1139.0 678.5 L1141.5 752.6 L1142.5 757.5 L1144.4 793.3 L1146.9 824.2 L1148.9 839.0 L1150.0 845.8 L1151.8 856.7 L1154.1 882.0 L1156.7 872.1 L1157.2 895.6 L1158.3 887.1 L1159.2 890.7 L1160.3 882.0 L1162.6 899.2 L1165.0 879.3 L1165.7 889.9 L1166.4 884.7 L1167.1 899.2 L1169.0 901.9 L1169.7 893.9 L1170.4 897.4 L1171.1 886.6 L1172.6 908.3 L1174.4 885.7 L1176.2 900.1 L1177.1 886.6 L1178.4 905.6 L1180.7 900.1 L1181.5 891.7 L1182.3 895.7 L1183.1 884.8 L1183.8 903.2 L1184.5 894.6 L1185.2 912.8 L1186.2 900.5 L1187.0 904.7 L1188.0 896.5 L1188.8 887.5 L1189.5 891.8 L1190.3 884.8 L1191.4 900.8 L1192.3 890.7 L1193.4 912.8 L1194.0 902.1 L1194.6 908.2 L1195.2 892.9 L1195.6 911.3 L1196.0 904.3 L1196.5 926.4 L1197.3 896.6 L1198.0 908.5 L1198.8 885.7 L1200.6 893.8 L1202.4 911.0 L1205.2 889.3 L1205.7 893.3 L1206.1 891.8 L1206.6 896.5 L1207.0 874.7 L1207.4 882.4 L1207.9 860.3 L1208.5 875.6 L1209.0 868.0 L1209.7 889.3 L1210.3 877.9 L1210.9 882.2 L1211.5 873.9 L1212.1 879.9 L1212.7 876.6 L1213.3 885.7 L1214.2 900.1 L1215.2 904.6 L1216.0 902.2 L1216.9 906.5 L1219.6 881.1 L1221.4 883.8 L1222.0 896.1 L1222.4 888.1 L1222.9 906.5 L1226.0 872.1 L1226.9 882.3 L1227.7 878.0 L1228.7 885.7 L1229.3 890.6 L1229.9 888.8 L1230.5 894.7 L1231.4 870.3 L1232.3 882.4 L1233.2 863.0 L1235.0 863.9 L1235.8 877.9 L1236.6 870.2 L1237.4 883.8 L1239.5 867.6 L1240.2 876.6 L1240.7 872.2 L1241.4 882.0 L1242.3 866.5 L1243.1 875.9 L1244.1 854.0 L1246.8 880.2 L1248.1 869.0 L1249.1 873.9 L1250.4 862.1 L1251.0 837.3 L1251.6 847.0 L1252.2 828.6 L1254.0 835.0 L1254.7 821.0 L1255.2 828.2 L1255.8 811.4 L1259.1 809.6 L1259.5 793.2 L1259.9 801.2 L1260.4 787.9 L1263.1 779.8 L1263.6 762.3 L1264.0 773.1 L1264.5 745.4 L1265.2 763.5 L1265.7 756.3 L1266.3 773.4 L1268.5 800.6 L1270.3 822.3 L1271.2 841.3 L1271.9 829.3 L1272.4 834.0 L1273.0 824.1 L1273.7 846.4 L1274.2 835.0 L1274.8 853.1 L1275.5 850.5 L1276.0 852.3 L1276.7 848.6 L1277.1 862.5 L1277.5 854.2 L1277.9 871.2 L1281.2 871.2 L1281.8 862.8 L1282.4 868.4 L1283.0 856.7 L1284.8 853.1 L1286.6 855.8 L1288.4 854.9 L1289.3 865.7 L1291.1 839.5 L1291.8 852.4 L1292.3 847.0 L1292.9 860.3 L1295.7 860.3 L1296.3 868.6 L1296.8 862.9 L1297.5 874.8 L1298.1 867.6 L1298.6 870.6 L1299.3 862.1 L1300.2 859.1 L1301.0 860.7 L1302.0 857.6 L1304.7 873.0 L1306.5 874.8 L1307.3 889.6 L1307.9 885.6 L1308.7 894.7 L1309.5 881.9 L1310.2 885.3 L1311.0 878.4 L1311.7 897.7 L1312.2 890.1 L1312.9 908.3 L1313.7 899.4 L1314.4 903.7 L1315.2 891.1 L1318.3 892.0 L1320.1 909.2 L1320.7 890.3 L1321.3 896.1 L1321.9 884.8 L1323.7 929.1 L1324.7 909.0 L1325.5 915.6 L1326.4 900.1 L1327.1 914.0 L1327.6 909.5 L1328.2 919.1 L1331.0 919.1 L1332.4 904.3 L1333.7 911.7 L1335.1 899.2 L1336.0 910.6 L1336.8 906.2 L1337.6 913.7 L1338.3 905.1 L1338.8 908.7 L1339.3 906.8 L1339.8 912.0 L1341.6 893.3 L1342.2 912.1 L1342.7 904.1 L1343.2 928.1 L1343.8 909.7 L1344.2 921.4 L1344.7 897.7 L1345.7 926.7 L1346.5 887.9 L1346.9 901.9 L1347.2 892.2 L1347.6 912.9 L1349.6 919.8 L1352.4 902.6 L1352.8 910.1 L1353.1 905.3 L1353.5 914.9 L1356.5 912.0 L1357.3 921.8 L1357.7 905.7 L1358.0 911.7 L1358.4 899.2 L1358.9 906.3 L1359.4 902.2 L1359.9 911.0 L1361.4 912.0 L1363.3 926.7 L1364.1 906.0 L1364.7 915.9 L1365.5 894.3 L1365.9 913.4 L1366.3 902.8 L1366.8 923.2 L1367.7 910.5 L1368.6 920.5 L1369.3 914.8 L1370.2 925.2 L1372.6 894.3 L1373.2 908.2 L1373.6 901.7 L1374.1 912.0 L1375.0 922.5 L1375.7 918.1 L1376.6 930.1 L1377.1 912.2 L1377.5 918.6 L1378.0 907.5 L1380.0 904.6 L1381.0 925.2 L1382.5 907.1 L1384.1 904.6 L1384.8 914.0 L1385.4 907.0 L1386.1 923.2 L1387.4 916.4 L1388.8 909.0 L1389.8 920.8 L1392.3 917.8 L1393.1 923.6 L1393.8 920.5 L1394.7 926.7 L1395.5 902.6 L1396.1 910.8 L1396.6 907.2 L1397.2 914.9 L1397.8 909.6 L1398.4 911.6 L1399.1 907.1 L1399.7 921.2 L1400.2 915.1 L1400.8 930.1 L1401.4 916.8 L1401.9 924.5 L1402.5 910.5 L1405.5 913.9 L1407.5 919.8 L1408.6 904.1 L1409.9 923.7 L1410.3 912.1 L1410.7 915.8 L1411.2 909.0 L1411.8 911.9 L1412.3 910.4 L1412.8 913.4 L1413.4 902.9 L1413.8 906.8 L1414.3 898.2 L1415.8 909.0 L1416.3 890.7 L1416.7 899.4 L1417.3 880.6 L1418.4 879.6 L1419.4 891.4 L1421.2 886.5 L1422.6 892.4 L1423.1 911.9 L1423.5 901.9 L1423.9 923.2 L1424.3 914.9 L1424.7 919.8 L1425.1 910.0 L1426.6 899.2 L1427.5 918.8 L1430.0 915.9 L1430.9 904.4 L1431.6 908.6 L1432.5 900.7 L1433.7 931.6 L1434.3 926.0 L1434.8 929.1 L1435.4 921.8 L1437.4 909.5 L1438.8 909.0 L1439.7 922.8 L1440.4 916.6 L1441.3 927.2 L1442.1 923.4 L1442.7 925.3 L1443.5 920.8 L1443.9 924.4 L1444.3 922.4 L1444.7 926.7 L1446.7 915.4 L1447.4 920.7 L1448.1 918.3 L1448.8 925.2 L1449.7 911.8 L1450.5 916.2 L1451.4 905.6 L1451.8 918.2 L1452.1 912.7 L1452.5 926.7 L1453.1 919.2 L1453.5 923.5 L1454.0 915.4 L1455.5 916.9 L1456.5 930.1 L1457.0 920.9 L1457.4 925.6 L1457.9 917.4 L1459.9 910.5 L1461.4 921.8 L1463.3 920.3 L1464.8 923.2 L1465.8 918.8" stroke="#000000"/>
</g>
<g stroke="#000" stroke-width="1.9" stroke-dasharray="2.6 6.028" fill="none">
<line x1="435.7" y1="92.3" x2="435.7" y2="966.4"/>
<line x1="559.6" y1="80.8" x2="559.6" y2="963.6"/>
<line x1="1129.3" y1="83.6" x2="1129.3" y2="966.1"/>
</g>
<g stroke="#000" stroke-width="3.9" stroke-linecap="round" fill="none">
<line x1="259.00" y1="1002.90" x2="259.00" y2="1020.90"/>
<line x1="259.00" y1="43.00" x2="259.00" y2="25.00"/>
<line x1="387.88" y1="1002.90" x2="387.88" y2="1011.90"/>
<line x1="387.88" y1="43.00" x2="387.88" y2="34.00"/>
<line x1="516.76" y1="1002.90" x2="516.76" y2="1020.90"/>
<line x1="516.76" y1="43.00" x2="516.76" y2="25.00"/>
<line x1="645.64" y1="1002.90" x2="645.64" y2="1011.90"/>
<line x1="645.64" y1="43.00" x2="645.64" y2="34.00"/>
<line x1="774.52" y1="1002.90" x2="774.52" y2="1020.90"/>
<line x1="774.52" y1="43.00" x2="774.52" y2="25.00"/>
<line x1="903.40" y1="1002.90" x2="903.40" y2="1011.90"/>
<line x1="903.40" y1="43.00" x2="903.40" y2="34.00"/>
<line x1="1032.28" y1="1002.90" x2="1032.28" y2="1020.90"/>
<line x1="1032.28" y1="43.00" x2="1032.28" y2="25.00"/>
<line x1="1161.16" y1="1002.90" x2="1161.16" y2="1011.90"/>
<line x1="1161.16" y1="43.00" x2="1161.16" y2="34.00"/>
<line x1="1290.04" y1="1002.90" x2="1290.04" y2="1020.90"/>
<line x1="1290.04" y1="43.00" x2="1290.04" y2="25.00"/>
<line x1="1418.92" y1="1002.90" x2="1418.92" y2="1011.90"/>
<line x1="1418.92" y1="43.00" x2="1418.92" y2="34.00"/>
<line x1="1547.80" y1="1002.90" x2="1547.80" y2="1020.90"/>
<line x1="1547.80" y1="43.00" x2="1547.80" y2="25.00"/>
<line x1="259.00" y1="936.70" x2="241.00" y2="936.70"/>
<line x1="259.00" y1="853.95" x2="250.00" y2="853.95"/>
<line x1="259.00" y1="771.20" x2="241.00" y2="771.20"/>
<line x1="259.00" y1="688.45" x2="250.00" y2="688.45"/>
<line x1="259.00" y1="605.70" x2="241.00" y2="605.70"/>
<line x1="259.00" y1="522.95" x2="250.00" y2="522.95"/>
<line x1="259.00" y1="440.20" x2="241.00" y2="440.20"/>
<line x1="259.00" y1="357.45" x2="250.00" y2="357.45"/>
<line x1="259.00" y1="274.70" x2="241.00" y2="274.70"/>
<line x1="259.00" y1="191.95" x2="250.00" y2="191.95"/>
<line x1="259.00" y1="109.20" x2="241.00" y2="109.20"/>
</g>
<rect x="259.00" y="43.00" width="1288.80" height="959.90" fill="none" stroke="#000" stroke-width="4"/>
<g font-size="53" text-anchor="middle">
<text transform="translate(259.00,1075) scale(1,1.035)">1000</text>
<text transform="translate(516.76,1075) scale(1,1.035)">1500</text>
<text transform="translate(774.52,1075) scale(1,1.035)">2000</text>
<text transform="translate(1032.28,1075) scale(1,1.035)">2500</text>
<text transform="translate(1290.04,1075) scale(1,1.035)">3000</text>
<text transform="translate(1547.80,1075) scale(1,1.035)">3500</text>
</g>
<g font-size="54" text-anchor="end">
<text transform="translate(228.6,951.60) scale(1,1.035)">0.0</text>
<text transform="translate(228.6,786.10) scale(1,1.035)">0.5</text>
<text transform="translate(228.6,620.60) scale(1,1.035)">1.0</text>
<text transform="translate(228.6,455.10) scale(1,1.035)">1.5</text>
<text transform="translate(228.6,289.60) scale(1,1.035)">2.0</text>
<text transform="translate(228.6,124.10) scale(1,1.035)">2.5</text>
</g>
<text transform="translate(662,1183.7) scale(1,1.03)" font-size="62.2" id="xt">Raman shift, cm</text>
<text x="1110.5" y="1149.6" font-size="38" textLength="27" lengthAdjust="spacingAndGlyphs" id="sup">-1</text>
<text transform="translate(76.9,730.2) rotate(-90) scale(1,1.023)" font-size="63" id="yt">Intensity, a.u.</text>
<g font-size="45.6">
<text x="381.3" y="89.7" id="g">G mode</text>
<text x="270.2" y="192.5" id="d">D mode</text>
<text x="925.3" y="108.2" font-size="46.2" id="dd">2D mode</text>
<text x="1223.7" y="176.1" fill="#0000ff" style="fill:#0000ff" id="a4">after 4 pulses</text>
<text x="1224.7" y="513" fill="#ff0000" style="fill:#ff0000" id="a2">after 2 pulses</text>
<text x="1362.9" y="785" id="bf">before</text>
</g>
</svg>
</body></html>
